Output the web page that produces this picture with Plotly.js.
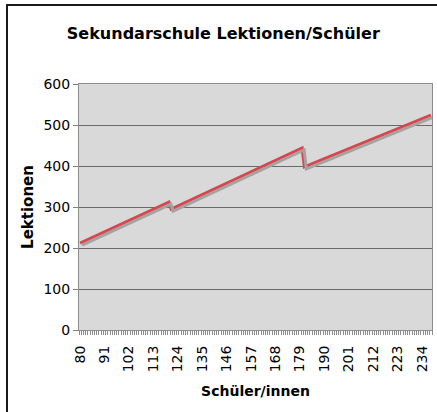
<!DOCTYPE html>
<html>
<head>
<meta charset="utf-8">
<script src="https://cdn.plot.ly/plotly-3.0.1.min.js"></script>
<style>
  html, body { margin: 0; padding: 0; background: #ffffff; overflow: hidden; }
  #wrap { position: relative; width: 437px; height: 412px; }
  #chart { position: absolute; left: 0; top: 0; width: 437px; height: 412px; }
  #frame { position: absolute; left: 6px; top: 4px; width: 500px; height: 500px;
           border-left: 2px solid #1a1a1a; border-top: 2px solid #1a1a1a; pointer-events: none; }
</style>
</head>
<body>
<div id="wrap">
  <div id="chart"></div>
  <div id="frame"></div>
</div>
<script>
// Data (breakpoints of the piecewise-straight line)
const students = [80, 120, 121, 180, 181, 238];
const lessons  = [212, 312, 295, 444, 398, 524];
const xTickLabels = [80, 91, 102, 113, 124, 135, 146, 157, 168, 179, 190, 201, 212, 223, 234];
const yTickValues = [0, 100, 200, 300, 400, 500, 600];

const titleText = 'Sekundarschule Lektionen/Schüler';
const xTitle = 'Schüler/innen';
const yTitle = 'Lektionen';

const font = '"DejaVu Sans", Verdana, sans-serif';

const shadow = {
  x: students, y: lessons, type: 'scatter', mode: 'lines',
  xaxis: 'x2', yaxis: 'y2',
  line: { color: '#a3a3a3', width: 3 },
  hoverinfo: 'skip', showlegend: false
};
const main = {
  x: students, y: lessons, type: 'scatter', mode: 'lines',
  line: { color: '#d9454b', width: 3 },
  showlegend: false
};

const layout = {
  width: 437, height: 412,
  margin: { l: 79, r: 5, t: 84, b: 82 },
  paper_bgcolor: '#ffffff',
  plot_bgcolor: '#d9d9d9',
  font: { family: font, color: '#000000' },
  title: {
    text: titleText,
    font: { family: font, size: 16, color: '#000000', weight: 'bold' },
    xref: 'container', x: 0.511, xanchor: 'center',
    yref: 'container', y: 0.92, yanchor: 'middle'
  },
  xaxis: {
    range: [79.5, 238.5],
    tickmode: 'array', tickvals: xTickLabels, ticktext: xTickLabels.map(String),
    tickangle: -90,
    ticks: 'outside', ticklen: 9, tickcolor: 'rgba(0,0,0,0)',
    tickfont: { family: font, size: 14, color: '#000000' },
    minor: { ticks: 'outside', ticklen: 4, tick0: 79.5, dtick: 1, tickcolor: '#8c8c8c', showgrid: false },
    showgrid: false, zeroline: false,
    showline: true, linecolor: '#8c8c8c', linewidth: 1, mirror: true,
    fixedrange: true,
    title: { text: xTitle, font: { family: font, size: 14, color: '#000000', weight: 'bold' }, standoff: 14 }
  },
  yaxis: {
    range: [0, 600],
    tickmode: 'array', tickvals: yTickValues,
    ticks: 'outside', ticklen: 5, tickcolor: '#808080',
    tickfont: { family: font, size: 14, color: '#000000' },
    showgrid: true, gridcolor: '#6a6a6a', gridwidth: 1,
    zeroline: false,
    showline: true, linecolor: '#8c8c8c', linewidth: 1, mirror: true,
    fixedrange: true,
    title: { text: yTitle, font: { family: font, size: 15, color: '#000000', weight: 'bold' }, standoff: 6 }
  },
  xaxis2: { overlaying: 'x', range: [78.6, 237.6], visible: false, fixedrange: true },
  yaxis2: { overlaying: 'y', range: [5, 605], visible: false, fixedrange: true }
};

Plotly.newPlot('chart', [shadow, main], layout, { displayModeBar: false, staticPlot: true });
</script>
</body>
</html>
